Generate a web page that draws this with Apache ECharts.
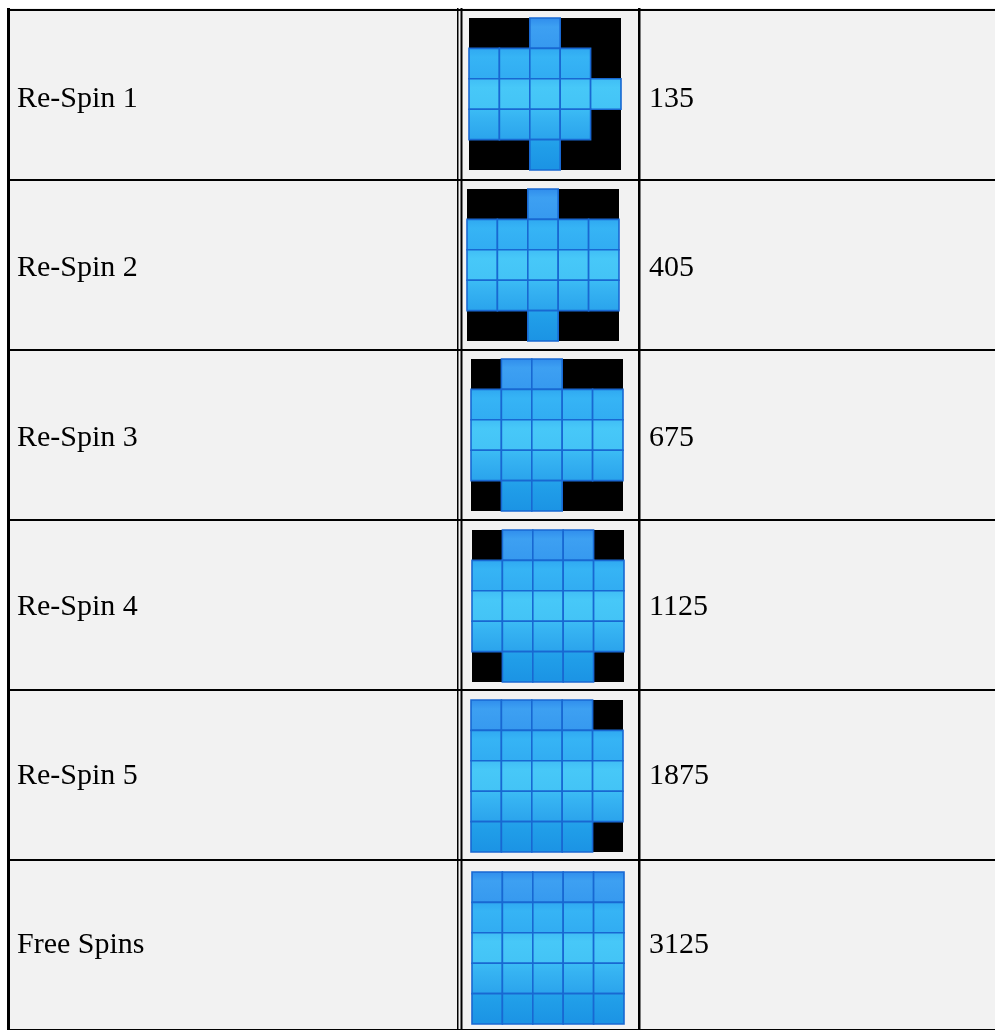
<!DOCTYPE html>
<html>
<head>
<meta charset="utf-8">
<script src="https://cdn.jsdelivr.net/npm/echarts@6/dist/echarts.min.js"></script>
<style>
  html, body { margin: 0; padding: 0; background: #fff; }
  #J_Chart { width: 995px; height: 1030px; }
</style>
</head>
<body>
<div id="J_Chart"></div>
<script>
'use strict';

// table content
const names = ['Re-Spin 1', 'Re-Spin 2', 'Re-Spin 3', 'Re-Spin 4', 'Re-Spin 5', 'Free Spins'];
const payouts = ['135', '405', '675', '1125', '1875', '3125'];
// 5x5 reel pictures, '1' = lit blue cell, '0' = black
const masks = [
  ['00100', '11110', '11111', '11110', '00100'],
  ['00100', '11111', '11111', '11111', '00100'],
  ['01100', '11111', '11111', '11111', '01100'],
  ['01110', '11111', '11111', '11111', '01110'],
  ['11110', '11111', '11111', '11111', '11110'],
  ['11111', '11111', '11111', '11111', '11111'],
];
const cols = ['0', '1', '2', '3', '4'];

// layout
const TOP = 9.5;
const ROW_H = 170.3;
const TEXT_SHIFT = 5;
const imgLeft = [469, 467, 471, 472, 471, 472];
const imgTop = [18, 189, 359, 530, 700, 872];
const IMG = 152;
const FONT = "'Liberation Serif', 'Times New Roman', serif";

// shade of each picture row (top -> bottom)
const shades = [
  ['#2f8cec', '#3da0f2', '#3699ef'],
  ['#2fa8f1', '#36b4f5', '#31acf2'],
  ['#3fbdf5', '#47c8f8', '#43c3f6'],
  ['#3cbdf5', '#36b3f2', '#2aa3ec'],
  ['#24a3eb', '#209de8', '#1b93e4'],
];

const chartDom = document.getElementById('J_Chart');
const myChart = echarts.init(chartDom);

const grids = [
  // whole table (row separators)
  { left: 7, right: 0, top: TOP, height: ROW_H * 6, show: false },
  // name column
  { left: 17, width: 10, top: TOP + TEXT_SHIFT, height: ROW_H * 6, show: false },
  // payout column
  { left: 649, width: 10, top: TOP + TEXT_SHIFT, height: ROW_H * 6, show: false },
];
const xAxis = [
  { gridIndex: 0, type: 'value', show: false },
  { gridIndex: 1, type: 'value', show: false },
  { gridIndex: 2, type: 'value', show: false },
];
const rowAxis = (gridIndex, data, labelShow) => ({
  gridIndex,
  type: 'category',
  inverse: true,
  data,
  axisLine: { show: false },
  axisTick: { show: false },
  splitLine: {
    show: gridIndex === 0,
    lineStyle: { color: '#000', width: 2 },
  },
  axisLabel: {
    show: labelShow,
    inside: true,
    margin: 0,
    color: '#000',
    fontSize: 30,
    fontFamily: FONT,
    align: 'left',
  },
});
const yAxis = [
  rowAxis(0, names, false),
  rowAxis(1, names, true),
  rowAxis(2, payouts, true),
];
const series = [];

masks.forEach((mask, i) => {
  grids.push({
    left: imgLeft[i],
    top: imgTop[i],
    width: IMG,
    height: IMG,
    show: true,
    backgroundColor: '#000',
    borderWidth: 0,
  });
  const gi = grids.length - 1;
  xAxis.push({ gridIndex: gi, type: 'category', data: cols, show: false });
  yAxis.push({ gridIndex: gi, type: 'category', data: cols, inverse: true, show: false });
  const cells = [];
  mask.forEach((line, r) => {
    line.split('').forEach((ch, c) => {
      if (ch === '1') cells.push([c, r]);
    });
  });
  series.push({
    type: 'custom',
    xAxisIndex: gi,
    yAxisIndex: gi,
    data: cells,
    silent: true,
    renderItem: function (params, api) {
      const p = api.coord([api.value(0), api.value(1)]);
      const s = api.size([1, 1]);
      const sh = shades[api.value(1)];
      return {
        type: 'rect',
        shape: { x: p[0] - s[0] / 2, y: p[1] - s[1] / 2, width: s[0], height: s[1] },
        style: {
          fill: new echarts.graphic.LinearGradient(0, 0, 0, 1, [
            { offset: 0, color: sh[0] },
            { offset: 0.3, color: sh[1] },
            { offset: 1, color: sh[2] },
          ]),
          stroke: '#1868d2',
          lineWidth: 1.6,
        },
      };
    },
  });
});

const option = {
  backgroundColor: '#fff',
  animation: false,
  grid: grids,
  xAxis,
  yAxis,
  series,
  graphic: [
    { type: 'rect', z: -10, shape: { x: 7, y: 8, width: 988, height: 1022 }, style: { fill: '#f2f2f2' } },
    { type: 'rect', z: 10, shape: { x: 7, y: 8, width: 3, height: 1022 }, style: { fill: '#000' } },
    { type: 'rect', z: 10, shape: { x: 457, y: 8, width: 1.5, height: 1022 }, style: { fill: '#000' } },
    { type: 'rect', z: 10, shape: { x: 460.5, y: 8, width: 2, height: 1022 }, style: { fill: '#000' } },
    { type: 'rect', z: 10, shape: { x: 638, y: 8, width: 2.5, height: 1022 }, style: { fill: '#000' } },
  ],
};

myChart.setOption(option);
</script>
</body>
</html>
